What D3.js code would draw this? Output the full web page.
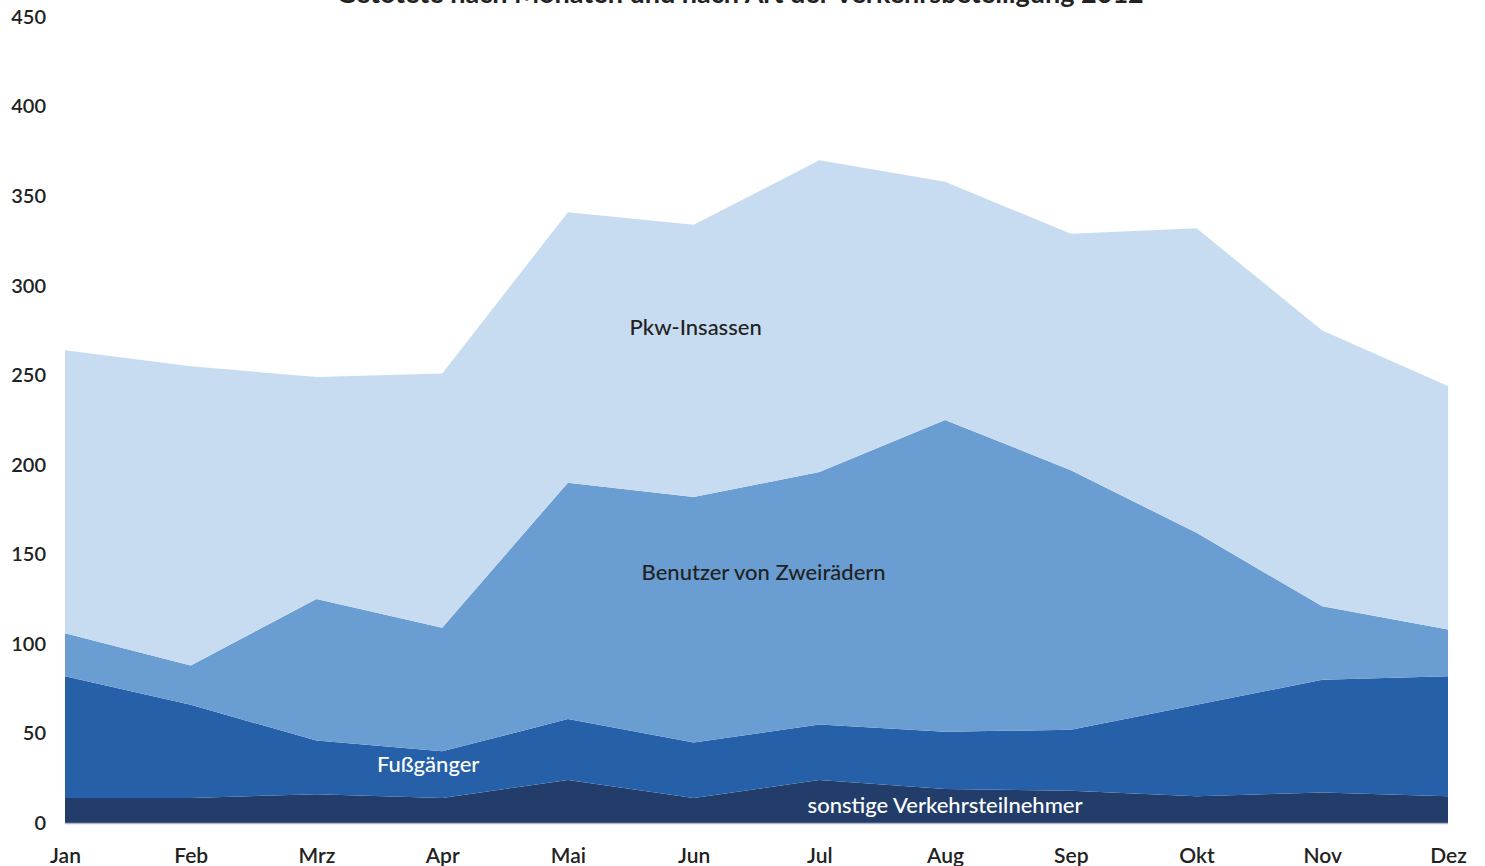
<!DOCTYPE html>
<html>
<head>
<meta charset="utf-8">
<script src="https://cdn.jsdelivr.net/npm/d3@7"></script>
<style>
  html, body { margin: 0; padding: 0; background: #fff; }
  svg { display: block; }
  text { font-family: "Lato", "Open Sans", sans-serif; }
</style>
</head>
<body>
<svg id="chart" width="1485" height="866"></svg>
<script>
const months = ["Jan","Feb","Mrz","Apr","Mai","Jun","Jul","Aug","Sep","Okt","Nov","Dez"];
const sonstige = [14, 14, 16, 14, 24, 14, 24, 19, 18, 15, 17, 15];
const fussgaenger = [68, 52, 30, 26, 34, 31, 31, 32, 34, 51, 63, 67];
const zweiraeder = [24, 22, 79, 69, 132, 137, 141, 174, 145, 96, 41, 26];
const pkw = [158, 167, 124, 142, 151, 152, 174, 133, 132, 170, 154, 136];
const yTicks = [0, 50, 100, 150, 200, 250, 300, 350, 400, 450];
const colors = ["#223d69", "#2560a9", "#6a9dd2", "#c8dcf1"];
const title = "Getötete nach Monaten und nach Art der Verkehrsbeteiligung 2012";
const areaLabels = ["sonstige Verkehrsteilnehmer", "Fußgänger", "Benutzer von Zweirädern", "Pkw-Insassen"];

const data = months.map((m, i) => ({month: m, s0: sonstige[i], s1: fussgaenger[i], s2: zweiraeder[i], s3: pkw[i]}));
const keys = ["s0", "s1", "s2", "s3"];
const stacked = d3.stack().keys(keys)(data);

const svg = d3.select("#chart");
const x = d3.scalePoint().domain(months).range([65, 1448]);
const y = d3.scaleLinear().domain([0, 450]).range([823, 17]);

const area = d3.area()
  .x(d => x(d.data.month))
  .y0(d => y(d[0]))
  .y1(d => y(d[1]));

svg.append("g").selectAll("path").data(stacked).join("path")
  .attr("d", area)
  .attr("fill", (d, i) => colors[i]);

// baseline
svg.append("line")
  .attr("x1", x("Jan")).attr("x2", x("Dez"))
  .attr("y1", y(0) + 0.5).attr("y2", y(0) + 0.5)
  .attr("stroke", "#aab4c6").attr("stroke-width", 1.5);

// y axis
const yAxis = d3.axisLeft(y).tickValues(yTicks).tickSize(0).tickPadding(0);
const gy = svg.append("g").attr("transform", "translate(46,0)").call(yAxis);
gy.select(".domain").remove();
gy.selectAll("text")
  .attr("font-size", 20).attr("font-weight", 600).attr("fill", "#222")
  .attr("dy", "0.32em");

// x axis
const xAxis = d3.axisBottom(x).tickSize(0).tickPadding(0);
const gx = svg.append("g").attr("transform", "translate(0,848)").call(xAxis);
gx.select(".domain").remove();
gx.selectAll("text")
  .attr("font-size", 21).attr("font-weight", 600).attr("fill", "#222")
  .attr("dy", "0.71em");

// title (clipped at top, as in the reference)
svg.append("text")
  .attr("x", 740).attr("y", 3)
  .attr("text-anchor", "middle")
  .attr("font-size", 27).attr("font-weight", 700).attr("fill", "#222")
  .text(title);

// area labels
const labelPos = [
  {i: 0, m: "Aug", dx: 0, v: 10, color: "#fff"},
  {i: 1, m: "Apr", dx: -14, v: 33, color: "#fff"},
  {i: 2, m: "Jun", dx: 70, v: 140, color: "#222"},
  {i: 3, m: "Jun", dx: 2, v: 277, color: "#222"}
];
labelPos.forEach(p => {
  svg.append("text")
    .attr("x", x(p.m) + p.dx).attr("y", y(p.v))
    .attr("text-anchor", "middle")
    .attr("dy", "0.35em")
    .attr("font-size", 22).attr("font-weight", 500)
    .attr("fill", p.color)
    .text(areaLabels[p.i]);
});
</script>
</body>
</html>
